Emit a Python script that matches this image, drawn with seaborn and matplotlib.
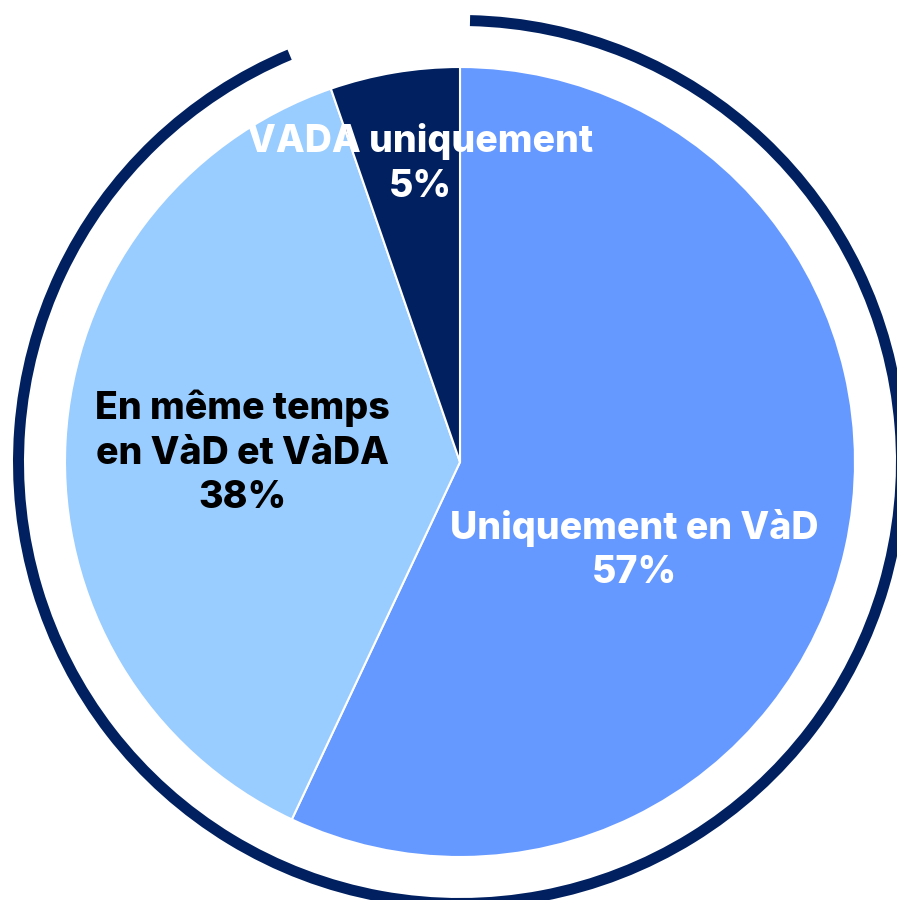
import numpy as np
import pandas as pd
import matplotlib
matplotlib.use("Agg")
import matplotlib.pyplot as plt
from matplotlib.patches import Wedge
import seaborn as sns

# values (percent)
categories = ["Uniquement en VàD", "En même temps\nen VàD et VàDA", "VADA uniquement"]
shares = [57.0, 37.7, 5.3]
slice_colors = ["#6699FF", "#99CCFF", "#002060"]
label_colors = ["white", "black", "white"]

sns.set_theme(style="white")
plt.rcParams['font.family'] = ['Inter', 'DejaVu Sans']

fig = plt.figure(figsize=(8.97, 9.0), dpi=100)
ax = fig.add_axes([0, 0, 1, 1])

cx, cy, r = 460, 438, 395
ax.pie(shares, colors=slice_colors, startangle=90, counterclock=False,
       center=(cx, cy), radius=r, frame=True,
       wedgeprops=dict(edgecolor="white", linewidth=1.5))
ax.set_xlim(0, 897)
ax.set_ylim(0, 900)
ax.set_aspect("equal")
ax.axis("off")

# outer ring with a gap near the top
ring = Wedge((cx, cy), 447, 112.7, 448.7, width=11, facecolor="#002060", edgecolor="none")
ax.add_patch(ring)

# labels
label_pos = [(634, 350), (242, 447), (420, 736)]
for cat, val, col, (x, y) in zip(categories, shares, label_colors, label_pos):
    ax.text(x, y, f"{cat}\n{round(val)}%", ha="center", va="center", color=col,
            fontsize=27, fontweight="heavy", linespacing=1.3)

fig.savefig("out.png", dpi=100)
